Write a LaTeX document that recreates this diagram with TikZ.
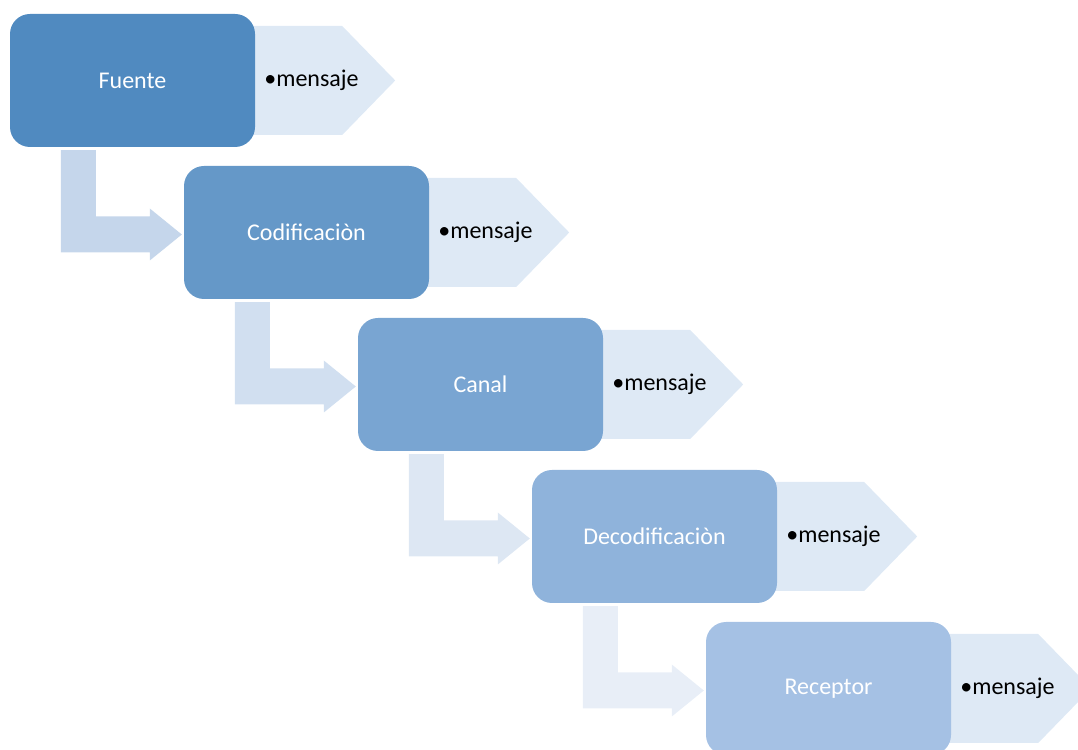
\documentclass[tikz,border=0pt]{standalone}
\usepackage{fontspec}
\setmainfont{Carlito}
\usetikzlibrary{backgrounds, calc}
\definecolor{cajaA}{RGB}{80,138,192}
\definecolor{cajaB}{RGB}{101,152,200}
\definecolor{cajaC}{RGB}{121,165,210}
\definecolor{cajaD}{RGB}{143,179,219}
\definecolor{cajaE}{RGB}{165,193,228}
\definecolor{puntaC}{RGB}{222,233,245}
\definecolor{codoA}{RGB}{197,214,235}
\definecolor{codoB}{RGB}{209,223,240}
\definecolor{codoC}{RGB}{221,231,243}
\definecolor{codoD}{RGB}{232,238,247}

\begin{document}
\begin{tikzpicture}[x=1pt, y=1pt,
	caja/.style={shape=rectangle, rounded corners=20pt, minimum width=245pt, minimum height=133pt, inner sep=0pt, text=white, font=\fontsize{24}{28}\selectfont},
	punta/.style={fill=puntaC},
	texto/.style={anchor=west, inner sep=0pt, text=black, font=\fontsize{24}{28}\selectfont}]
	\path[use as bounding box] (0, 0) rectangle (1078, 749);
	\clip (0, 0) rectangle (1078, 749);
	% Boxes:
	\node[caja, fill=cajaA] (fuente) at (132.5, 668.5) {Fuente};
	\node[caja, fill=cajaB] (codif) at (306.5, 516.5) {Codificaciòn};
	\node[caja, fill=cajaC] (canal) at (480.5, 364.5) {Canal};
	\node[caja, fill=cajaD] (decod) at (654.5, 212.5) {Decodificaciòn};
	\node[caja, fill=cajaE] (recep) at (828.5, 60.5) {Receptor};
	% Labels:
	\node[texto] (mfuente) at ([xshift=9pt]fuente.east) {•mensaje};
	\node[texto] (mcodif) at ([xshift=9pt]codif.east) {•mensaje};
	\node[texto] (mcanal) at ([xshift=9pt]canal.east) {•mensaje};
	\node[texto] (mdecod) at ([xshift=9pt]decod.east) {•mensaje};
	\node[texto] (mrecep) at ([xshift=9pt]recep.east) {•mensaje};
	\begin{pgfonlayer}{background}
		% Pointed tails:
		\foreach \n in {fuente, codif, canal, decod, recep}
			\fill[punta] ([shift={(-5pt,54.5pt)}]\n.east) -- ++(92, 0) -- ++(53, -54.5) -- ++(-53, -54.5) -- ++(-92, 0) -- cycle;
		% Bent arrows:
		\foreach \a/\b/\c in {fuente/codif/codoA, codif/canal/codoB, canal/decod/codoC, decod/recep/codoD}
			\fill[\c] let \p1=(\a.south west), \p2=(\b.west) in
				(\x1+51pt, \y1-3pt) -- (\x1+86pt, \y1-3pt) -- (\x1+86pt, \y2+16pt) -- (\x2-34pt, \y2+16pt)
				-- (\x2-34pt, \y2+24pt) -- (\x2-2pt, \y2-2pt) -- (\x2-34pt, \y2-28pt) -- (\x2-34pt, \y2-20pt)
				-- (\x1+51pt, \y2-20pt) -- cycle;
	\end{pgfonlayer}
\end{tikzpicture}
\end{document}
